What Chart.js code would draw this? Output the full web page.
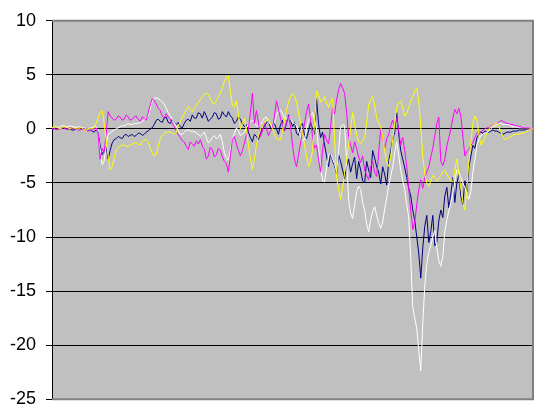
<!DOCTYPE html>
<html lang="en">
<head>
    <meta charset="UTF-8">
    <title>chart</title>
    <style>
        html, body { margin: 0; padding: 0; background: #ffffff; }
        #wrap { width: 540px; height: 420px; }
    </style>
</head>
<body>
    <div id="wrap"><canvas id="myChart"></canvas></div>

    <script src="https://cdn.jsdelivr.net/npm/chart.js"></script>
    <script>
        // values, one sample about every 2 px along x
        const whiteVals = [
            0.1, 0.2, 0.2, 0.1, 0.2, 0.3, 0.3, 0.2, 0.2, 0.3, 0.2, 0.2, 0.1, 0.2, 0.2, 0.1, 0.1, 0.0, 0.0, 0.1, 0.1, 0.2, 0.2, -0.6,
            -1.9, -3.3, -3.0, -1.5, -0.5, -0.4, -0.2, -0.1, 0.0, 0.1, 0.2, 0.3, 0.3, 0.4, 0.5, 0.4, 0.4, 0.5, 0.5, 0.5, 0.6, 0.7, 0.8, 1.0,
            1.2, 1.9, 2.6, 2.8, 2.9, 2.8, 2.7, 2.5, 2.3, 1.9, 1.5, 1.2, 0.9, 0.6, 0.2, -0.2, -0.5, -0.5, -0.3, -0.1, -0.1, -0.2, -0.3, -0.2,
            -0.4, -0.5, -0.7, -0.5, -0.3, -0.8, -1.3, -1.1, -0.8, -0.6, -0.9, -0.8, -0.5, -1.2, -2.2, -2.7, -2.9, -2.0, -1.0, -0.4, 0.1, -0.2, -0.6, -0.5,
            -0.3, 0.1, 0.4, 0.7, 0.8, 0.6, 0.3, 0.2, 0.4, 0.7, 1.0, 1.1, 0.6, 0.4, 0.2, 0.6, 1.3, 1.6, 1.8, 1.4, 1.0, 0.9, 1.2, 0.9,
            0.6, 0.5, 0.3, -0.2, -0.7, -1.1, -1.0, 0.0, 0.8, 1.3, 1.5, 0.9, 0.0, -1.8, -3.5, -4.8, -4.9, -3.5, -2.5, -2.2, -2.8, -3.2, -4.0, -2.0,
            0.2, 0.4, 0.3, -3.0, -6.5, -7.8, -8.3, -7.0, -5.8, -5.3, -5.6, -6.8, -7.5, -8.8, -9.5, -8.4, -7.6, -7.2, -8.0, -8.7, -9.2, -8.6, -7.4, -6.4,
            -5.2, -4.4, -3.5, -2.2, -1.2, -2.5, -3.8, -4.8, -5.6, -7.0, -8.2, -12.0, -16.5, -17.5, -18.5, -20.5, -22.4, -18.0, -14.5, -12.5, -11.4, -10.8, -10.0, -9.4,
            -11.0, -12.2, -12.7, -11.8, -9.5, -8.4, -7.6, -6.8, -6.0, -4.8, -3.8, -4.0, -4.5, -5.0, -5.4, -6.2, -6.5, -5.8, -4.0, -2.8, -1.5, -1.0, -0.6, -0.5,
            -0.4, -0.3, -0.2, 0.0, 0.2, 0.3, 0.4, 0.5, 0.5, 0.4, 0.4, 0.4, 0.4, 0.3, 0.2, 0.2, 0.2, 0.1, 0.1, 0.1, 0.1, 0.1, 0.1, 0.0, 0.0
        ];
        const navyVals = [
            0.0, 0.0, 0.1, 0.0, 0.0, 0.1, 0.1, 0.0, 0.0, 0.0, -0.1, -0.1, 0.0, 0.0, 0.1, 0.0, 0.0, 0.0, -0.1, -0.1, -0.2, -0.3, -0.1, -0.4,
            -1.5, -2.4, -2.0, -1.6, -2.8, -2.0, -1.3, -1.0, -0.9, -0.7, -0.8, -0.9, -0.6, -0.5, -0.7, -0.6, -0.5, -0.7, -0.6, -0.4, -0.4, -0.6, -0.5, -0.3,
            -0.2, 0.0, 0.1, 0.4, 0.8, 0.9, 0.7, 0.6, 1.0, 1.1, 0.6, 0.5, 0.9, 0.6, 0.4, 0.6, 0.2, 0.1, 0.5, 0.8, 0.9, 0.7, 1.3, 1.0,
            1.0, 1.5, 1.4, 1.0, 1.6, 1.2, 0.7, 0.9, 1.1, 1.5, 1.4, 0.9, 1.0, 1.6, 1.3, 1.1, 1.6, 1.2, 1.0, 0.5, 0.7, 1.1, 0.9, 0.5,
            0.2, 0.4, -0.3, -0.8, -1.2, -0.5, -0.7, -1.0, -0.4, 0.0, 0.2, 0.6, 0.7, 0.1, 0.3, 0.5, 0.0, -0.5, 0.4, 0.8, -0.2, 0.5, 1.3, 0.8,
            0.2, 0.6, -0.4, -0.6, 0.3, 0.5, -0.6, -0.9, -0.2, 0.6, 0.0, -0.5, 2.8, 0.5, -0.8, -0.3, -1.5, -2.5, -3.5, -2.2, -3.0, -3.4, -4.2, -2.4,
            -3.0, -3.8, -4.6, -3.5, -2.8, -4.0, -3.2, -2.6, -4.6, -3.0, -3.8, -4.8, -5.0, -3.0, -3.8, -4.5, -2.0, -2.7, -3.5, -4.0, -5.1, -3.5, -4.2, -5.2,
            -3.0, -2.0, -1.0, -0.3, 1.5, -0.5, -2.0, -2.8, -3.6, -4.5, -5.5, -6.2, -7.5, -8.5, -10.0, -11.5, -13.8, -11.0, -9.0, -8.0, -10.5, -9.5, -8.0, -10.8,
            -10.5, -8.5, -7.5, -8.2, -6.2, -5.4, -7.3, -6.0, -4.5, -6.8, -5.0, -4.2, -6.2, -7.0, -4.8, -5.8, -3.6, -2.5, -1.5, -1.8, -0.8, -0.5, -0.3, -0.4,
            -0.2, -0.3, -0.3, -0.2, -0.1, -0.2, -0.2, -0.3, -0.4, -0.5, -0.4, -0.3, -0.3, -0.3, -0.2, -0.2, -0.2, -0.1, -0.1, -0.1, -0.1, 0.0, 0.0, 0.0, 0.0
        ];
        const magentaVals = [
            0.0, 0.1, -0.1, 0.0, 0.0, 0.1, 0.1, 0.0, 0.0, 0.1, 0.1, 0.0, 0.0, -0.1, -0.1, 0.0, 0.0, -0.1, -0.2, -0.1, -0.1, 0.0, 0.1, -0.5,
            -2.8, -1.8, -2.2, -0.5, 1.6, 1.2, 1.0, 0.8, 0.9, 1.2, 1.1, 0.8, 0.9, 1.3, 1.1, 0.8, 0.9, 1.1, 1.2, 0.9, 0.7, 1.1, 1.0, 0.8,
            1.5, 2.2, 2.8, 2.6, 2.3, 1.9, 1.7, 1.2, 1.0, 1.4, 1.1, 0.9, 0.5, 0.2, -0.2, -0.5, -0.8, -1.1, -1.2, -1.6, -1.9, -1.2, -1.4, -1.6,
            -1.1, -1.4, -1.0, -1.6, -1.9, -2.8, -2.5, -1.7, -1.9, -2.6, -2.4, -1.8, -2.0, -2.6, -3.0, -3.2, -4.0, -2.5, -1.0, -0.7, -1.4, -2.0, -2.5, -2.0,
            -1.3, -0.6, 0.0, 1.5, 3.3, 0.5, 1.7, 0.6, -0.7, -0.2, 0.5, 0.0, -0.6, -0.2, 0.0, 1.2, 2.6, 1.8, 1.0, 0.3, -0.2, 0.6, 1.2, 0.2,
            -1.5, -2.8, -3.5, -2.4, -1.3, -0.4, 0.5, 1.6, 2.3, 0.8, -0.7, -1.8, -1.5, -2.8, -4.0, -2.0, -0.5, -1.0, -1.4, 0.2, 2.0, 1.4, 2.7, 3.6,
            4.2, 3.8, 3.3, 1.5, -0.7, -1.5, -2.2, -1.2, -1.8, -2.6, -3.1, -2.5, -3.8, -4.3, -4.7, -3.5, -3.0, -4.0, -4.4, -2.2, 0.0, -1.0, -1.8, -0.9,
            -0.5, 0.3, 0.8, 0.2, 1.0, -0.2, -1.5, -0.8, -2.0, -3.5, -5.5, -7.5, -9.3, -8.6, -7.0, -5.6, -4.7, -5.5, -4.5, -4.0, -3.5, -2.6, -1.8, -0.6,
            0.5, 1.1, -3.0, -3.4, -2.8, -1.6, -0.8, 0.0, 1.0, 1.8, 1.4, 1.9, 1.2, -0.7, -2.5, -2.1, -1.9, -1.5, -1.3, -0.8, -0.4, -0.2, -0.3, -0.1,
            0.0, 0.1, 0.1, 0.3, 0.4, 0.5, 0.5, 0.6, 0.8, 0.7, 0.6, 0.5, 0.5, 0.4, 0.4, 0.3, 0.3, 0.2, 0.2, 0.1, 0.1, 0.1, 0.1, 0.0, 0.0
        ];
        const yellowVals = [
            0.1, 0.2, 0.2, 0.1, 0.0, 0.1, 0.2, 0.2, 0.1, 0.0, 0.1, 0.1, 0.0, 0.0, 0.1, 0.1, -0.1, -0.1, 0.0, 0.0, 0.0, 0.1, 0.5, 1.0,
            1.5, 1.7, 0.5, -1.0, -2.5, -3.8, -3.5, -2.7, -2.0, -1.8, -1.6, -1.5, -1.5, -1.6, -1.6, -1.5, -1.4, -1.3, -1.3, -1.4, -1.5, -1.2, -1.0, -1.0,
            -1.2, -1.8, -2.2, -2.5, -2.4, -1.6, -0.9, -0.6, -0.4, -0.3, -0.3, -0.3, -0.4, -0.5, -0.3, 0.2, 0.7, 1.1, 1.4, 1.8, 2.1, 1.8, 1.6, 1.9,
            2.2, 2.4, 2.7, 3.0, 3.2, 3.3, 3.2, 2.8, 2.4, 2.3, 2.6, 3.0, 3.3, 3.8, 4.4, 4.8, 4.9, 3.5, 2.2, 2.0, 2.6, 1.3, 0.0, 0.5,
            1.0, 0.0, -1.5, -2.8, -3.8, -2.8, -1.5, -0.6, 0.0, 0.3, 0.6, 0.8, 0.9, 0.5, 0.0, -0.5, -0.9, -1.0, -1.0, -0.2, 0.8, 1.7, 2.5, 3.0,
            3.3, 3.0, 2.5, 1.5, 0.5, -0.5, -1.5, -2.6, -3.5, -3.0, -2.0, 0.5, 3.5, 3.2, 2.5, 2.6, 3.0, 2.4, 2.0, 2.6, 2.8, -1.0, -4.5, -5.6,
            -6.5, -5.5, -4.0, -2.8, -1.5, 0.0, 1.5, 0.4, -0.6, -1.2, -1.3, -1.1, -0.8, 0.6, 2.2, 2.7, 3.0, 2.2, 1.0, 0.6, 0.2, -0.8, -2.0, -3.0,
            -3.5, -2.5, -1.0, 0.5, 2.0, 2.4, 2.6, 2.0, 1.2, 1.4, 2.0, 2.6, 3.0, 3.5, 3.8, 2.5, 0.2, -2.5, -4.2, -5.0, -5.3, -4.8, -4.3, -4.5,
            -4.8, -4.6, -4.3, -4.0, -3.8, -4.2, -4.5, -4.8, -4.9, -3.8, -2.8, -4.2, -5.5, -6.8, -7.5, -5.5, -3.0, -1.2, 0.5, 1.2, 0.8, -0.5, -1.5, -1.2,
            -0.8, -0.4, 0.0, 0.2, 0.4, 0.5, 0.5, 0.2, -0.3, -0.7, -1.0, -0.9, -0.8, -0.7, -0.6, -0.5, -0.5, -0.5, -0.4, -0.4, -0.3, -0.2, -0.1, 0.0, 0.0
        ];
        const categories = whiteVals.map((v, i) => i + 1);
        const yMin = -25;
        const yMax = 10;
        const yStep = 5;

        // grey plot area and the thin grey frame round it
        const plotArea = {
            id: 'plotArea',
            beforeDraw(chart) {
                const { ctx, chartArea: a } = chart;
                ctx.save();
                ctx.fillStyle = '#c0c0c0';
                ctx.fillRect(a.left, a.top, a.right - a.left, a.bottom - a.top);
                ctx.restore();
            },
            beforeDatasetsDraw(chart) {
                const { ctx, chartArea: a } = chart;
                ctx.save();
                ctx.strokeStyle = '#808080';
                ctx.lineWidth = 2;
                ctx.beginPath();
                ctx.moveTo(a.left, a.top);
                ctx.lineTo(a.right, a.top);
                ctx.lineTo(a.right, a.bottom);
                ctx.lineTo(a.left, a.bottom);
                ctx.stroke();
                ctx.restore();
            }
        };

        function line(data, color, order) {
            return {
                data: data,
                borderColor: color,
                borderWidth: 1,
                pointRadius: 0,
                tension: 0,
                fill: false,
                order: order
            };
        }

        new Chart(document.getElementById('myChart'), {
            type: 'line',
            data: {
                labels: categories,
                datasets: [
                    line(navyVals, '#000080', 4),
                    line(whiteVals, '#ffffff', 3),
                    line(magentaVals, '#ff00ff', 2),
                    line(yellowVals, '#ffff00', 1)
                ]
            },
            options: {
                responsive: true,
                maintainAspectRatio: false,
                animation: false,
                layout: { padding: { top: 20, right: 7, bottom: 19, left: 0 } },
                plugins: {
                    legend: { display: false },
                    tooltip: { enabled: false }
                },
                scales: {
                    x: { display: false, offset: false },
                    y: {
                        min: yMin,
                        max: yMax,
                        afterFit(scale) { scale.width = 52; },
                        ticks: {
                            stepSize: yStep,
                            padding: 10,
                            color: '#000000',
                            font: { family: 'Liberation Sans, Arial, sans-serif', size: 18 }
                        },
                        grid: {
                            color: (c) => (c.tick && (c.tick.value === yMin || c.tick.value === yMax)) ? '#808080' : '#000000',
                            tickColor: '#000000',
                            tickLength: 6,
                            lineWidth: 1
                        },
                        border: { display: true, color: '#000000', width: 1 }
                    }
                }
            },
            plugins: [plotArea]
        });
    </script>
</body>
</html>
